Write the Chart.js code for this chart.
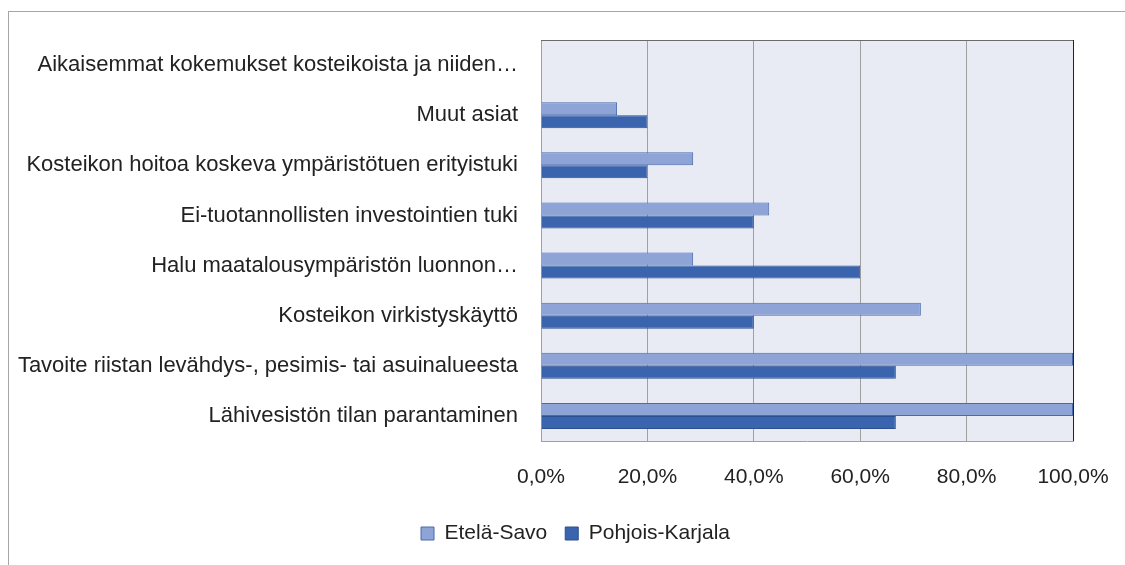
<!DOCTYPE html>
<html lang="fi">
<head>
<meta charset="UTF-8">
<title>Kosteikot</title>
<script src="https://cdn.jsdelivr.net/npm/chart.js"></script>
<style>
    html, body { margin: 0; padding: 0; background: #fff; }
    .wrap { position: relative; width: 1125px; height: 565px; }
    .frame {
        position: absolute; left: 8px; top: 11px; right: 0; bottom: 0;
        border-left: 1px solid #a6a6a6; border-top: 1px solid #a6a6a6;
    }
    canvas { position: absolute; left: 0; top: 0; }
</style>
</head>
<body>
<div class="wrap">
    <div class="frame"></div>
    <canvas id="chart" width="1125" height="565"></canvas>
</div>
<script>
    const categories = [
        'Aikaisemmat kokemukset kosteikoista ja niiden…',
        'Muut asiat',
        'Kosteikon hoitoa koskeva ympäristötuen erityistuki',
        'Ei-tuotannollisten investointien tuki',
        'Halu maatalousympäristön luonnon…',
        'Kosteikon virkistyskäyttö',
        'Tavoite riistan levähdys-, pesimis- tai asuinalueesta',
        'Lähivesistön tilan parantaminen'
    ];
    const etelaSavo = [0, 14.3, 28.6, 42.9, 28.6, 71.4, 100, 100];
    const pohjoisKarjala = [0, 20, 20, 40, 60, 40, 66.7, 66.7];
    const xTicks = [0, 20, 40, 60, 80, 100];

    const FONT = "'Liberation Sans', Arial, sans-serif";

    // plot area background + top border
    const plotBg = {
        id: 'plotBg',
        beforeDraw(chart) {
            const { ctx, chartArea: a } = chart;
            ctx.save();
            ctx.fillStyle = '#e8eaf4';
            ctx.fillRect(a.left, a.top, a.right - a.left, a.bottom - a.top);
            ctx.restore();
        },
        afterDatasetsDraw(chart) {
            const { ctx, chartArea: a } = chart;
            ctx.save();
            ctx.strokeStyle = '#6b6b6b';
            ctx.lineWidth = 1;
            ctx.beginPath();
            ctx.moveTo(a.left, a.top + 0.5);
            ctx.lineTo(a.right, a.top + 0.5);
            ctx.stroke();
            ctx.restore();
        }
    };

    // legend sits a bit right of the canvas centre in the original
    const legendShift = {
        id: 'legendShift',
        afterLayout(chart) {
            chart.legend.left += 39;
            chart.legend.right += 39;
        }
    };

    new Chart(document.getElementById('chart'), {
        type: 'bar',
        data: {
            labels: categories,
            datasets: [
                {
                    label: 'Etelä-Savo',
                    data: etelaSavo,
                    backgroundColor: '#8ea4d6',
                    borderColor: '#4a6aae',
                    borderWidth: 1,
                    categoryPercentage: 0.52,
                    barPercentage: 1.0
                },
                {
                    label: 'Pohjois-Karjala',
                    data: pohjoisKarjala,
                    backgroundColor: '#3a64ae',
                    borderColor: '#2c4f8f',
                    borderWidth: 1,
                    categoryPercentage: 0.52,
                    barPercentage: 1.0
                }
            ]
        },
        options: {
            indexAxis: 'y',
            responsive: false,
            animation: false,
            layout: { padding: { top: 40, right: 52, left: 0, bottom: 11 } },
            plugins: {
                legend: {
                    position: 'bottom',
                    labels: {
                        font: { family: FONT, size: 21 },
                        color: '#222',
                        boxWidth: 13,
                        boxHeight: 13,
                        padding: 18
                    }
                },
                tooltip: { enabled: false }
            },
            scales: {
                x: {
                    min: 0,
                    max: 100,
                    afterBuildTicks(s) { s.ticks = xTicks.map(v => ({ value: v })); },
                    afterFit(s) { s.height = 64; },
                    ticks: {
                        font: { family: FONT, size: 21 },
                        color: '#222',
                        padding: 4,
                        callback: v => v.toFixed(1).replace('.', ',') + '%'
                    },
                    grid: {
                        color: ctx => ctx.tick && ctx.tick.value === 100 ? '#222' : '#a0a0a0',
                        drawTicks: true,
                        tickLength: 20,
                        tickColor: 'rgba(0,0,0,0)'
                    },
                    border: { color: '#a0a0a0' }
                },
                y: {
                    afterFit(s) { s.width = 541; },
                    ticks: {
                        font: { family: FONT, size: 22 },
                        color: '#222',
                        padding: 15
                    },
                    grid: { display: false },
                    border: { color: '#a0a0a0' }
                }
            }
        },
        plugins: [plotBg, legendShift]
    });
</script>
</body>
</html>
